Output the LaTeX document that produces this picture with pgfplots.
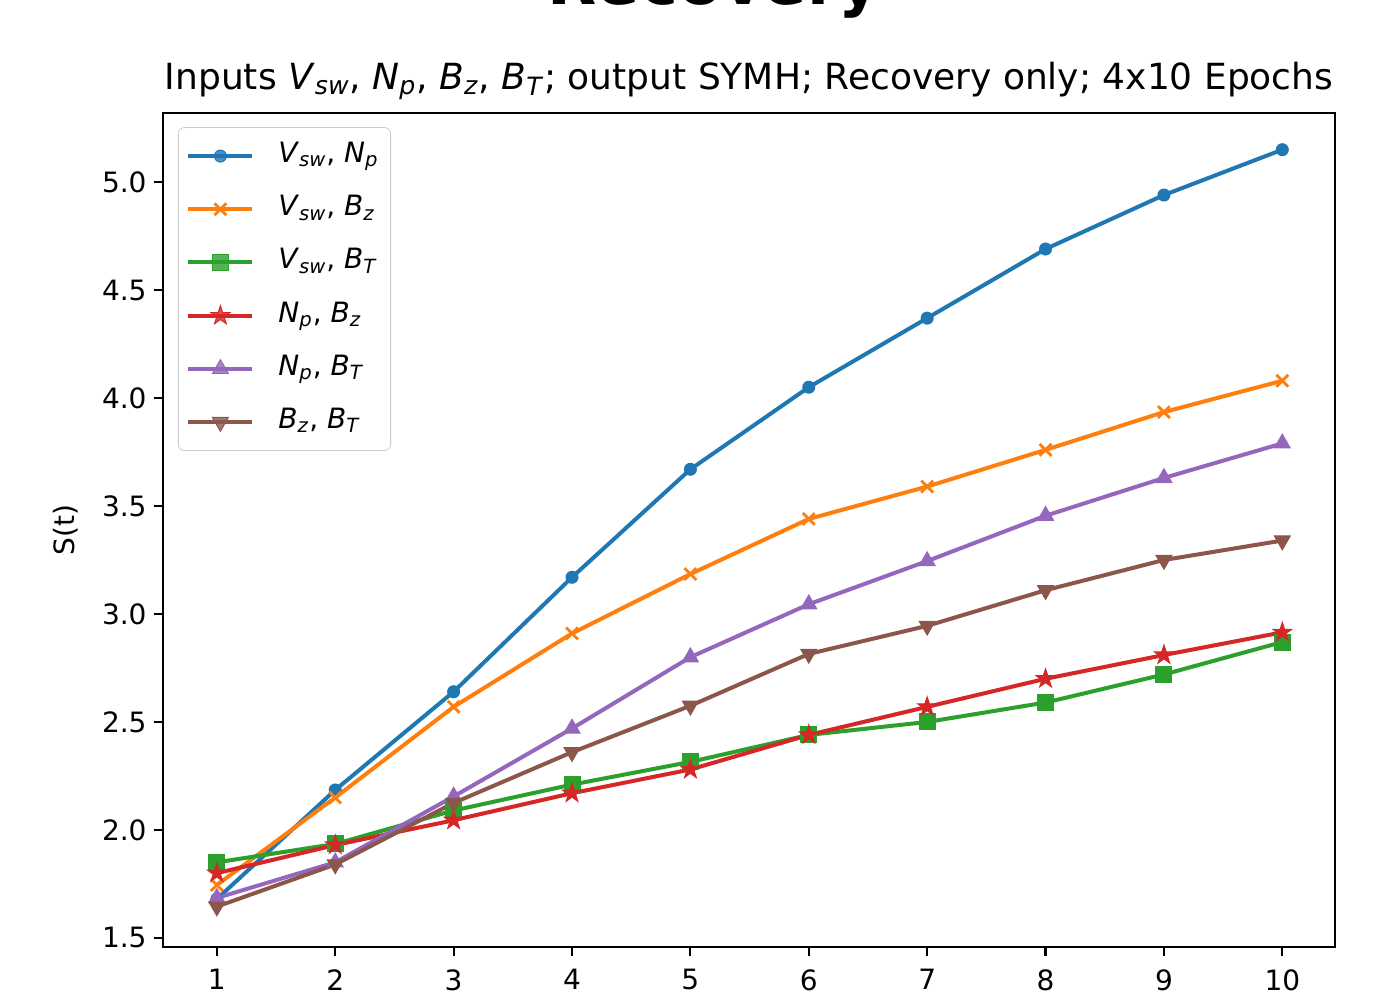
\documentclass[border=0pt]{standalone}
\usepackage{fontspec}
\setmainfont{DejaVu Sans}
\usepackage{pgfplots}
\pgfplotsset{compat=1.18}

\definecolor{c0}{HTML}{1F77B4}
\definecolor{c1}{HTML}{FF7F0E}
\definecolor{c2}{HTML}{2CA02C}
\definecolor{c3}{HTML}{D62728}
\definecolor{c4}{HTML}{9467BD}
\definecolor{c5}{HTML}{8C564B}

% filled five-pointed star, like matplotlib's '*'
\pgfdeclareplotmark{fstar}{%
  \pgfpathmoveto{\pgfpointpolar{90}{\pgfplotmarksize}}%
  \pgfpathlineto{\pgfpointpolar{126}{0.382\pgfplotmarksize}}%
  \pgfpathlineto{\pgfpointpolar{162}{\pgfplotmarksize}}%
  \pgfpathlineto{\pgfpointpolar{198}{0.382\pgfplotmarksize}}%
  \pgfpathlineto{\pgfpointpolar{234}{\pgfplotmarksize}}%
  \pgfpathlineto{\pgfpointpolar{270}{0.382\pgfplotmarksize}}%
  \pgfpathlineto{\pgfpointpolar{306}{\pgfplotmarksize}}%
  \pgfpathlineto{\pgfpointpolar{342}{0.382\pgfplotmarksize}}%
  \pgfpathlineto{\pgfpointpolar{18}{\pgfplotmarksize}}%
  \pgfpathlineto{\pgfpointpolar{54}{0.382\pgfplotmarksize}}%
  \pgfpathclose
  \pgfusepathqfillstroke}

\newcommand{\vsub}[2]{\textit{#1}\textsubscript{\textit{#2}}}
\newcommand{\tickfont}{\fontsize{14pt}{16pt}\selectfont}

\begin{document}
\begin{tikzpicture}
\begin{axis}[
  at={(0,0)}, anchor=south west,
  scale only axis, width=586pt, height=417pt,
  xmin=0.545, xmax=10.445, ymin=1.458, ymax=5.32,
  xtick={1,...,10}, ytick={1.5,2,...,5},
  yticklabel style={/pgf/number format/.cd, fixed, fixed zerofill, precision=1},
  /pgf/number format/assume math mode=true,
  tick align=outside, xtick pos=bottom, ytick pos=left,
  major tick length=4.7pt,
  tick style={line width=1.1pt, black},
  axis line style={line width=1.1pt},
  ticklabel style={font=\tickfont},
  xticklabel style={yshift=-3pt},
  ylabel={S(t)}, ylabel style={font=\tickfont, yshift=5pt},
  title={Inputs \vsub{V}{sw}, \vsub{N}{p}, \vsub{B}{z}, \vsub{B}{T}; output SYMH; Recovery only; 4x10 Epochs},
  title style={font=\fontsize{18pt}{21pt}\selectfont, yshift=-3pt},
  every axis plot/.append style={line width=2pt},
  legend cell align=left,
  legend style={at={(0.0128,0.983)}, anchor=north west,
    draw=black!20, fill=white, fill opacity=0.8, text opacity=1,
    rounded corners=3pt, font=\tickfont, inner xsep=4pt, inner ysep=5pt,
    nodes={inner sep=2pt, text height=10.5pt, text depth=4pt},
    row sep=8.1pt},
  legend image code/.code={
    \draw[mark repeat=2, mark phase=2, #1] plot coordinates {(0pt,0pt) (16pt,0pt) (32pt,0pt)};
    \path (42pt,0pt);},
]
\addplot[c0, mark=*, mark size=3pt, mark options={line width=0.5pt}] coordinates {
(1,1.68) (2,2.185) (3,2.64) (4,3.17) (5,3.67) (6,4.05) (7,4.37) (8,4.69) (9,4.94) (10,5.15)
};
\addlegendentry{\vsub{V}{sw}, \vsub{N}{p}}
\addplot[c1, mark=x, mark size=4.2pt, mark options={line width=1.4pt}] coordinates {
(1,1.745) (2,2.15) (3,2.57) (4,2.91) (5,3.185) (6,3.44) (7,3.59) (8,3.76) (9,3.935) (10,4.08)
};
\addlegendentry{\vsub{V}{sw}, \vsub{B}{z}}
\addplot[c2, mark=square*, mark size=4pt, mark options={line width=0.5pt}] coordinates {
(1,1.85) (2,1.935) (3,2.09) (4,2.21) (5,2.315) (6,2.44) (7,2.50) (8,2.59) (9,2.72) (10,2.87)
};
\addlegendentry{\vsub{V}{sw}, \vsub{B}{T}}
\addplot[c3, mark=fstar, mark size=5pt, mark options={line width=0.5pt}] coordinates {
(1,1.80) (2,1.93) (3,2.045) (4,2.17) (5,2.28) (6,2.44) (7,2.57) (8,2.70) (9,2.81) (10,2.915)
};
\addlegendentry{\vsub{N}{p}, \vsub{B}{z}}
\addplot[c4, mark=triangle*, mark size=4.6pt, mark options={line width=0.5pt}] coordinates {
(1,1.685) (2,1.85) (3,2.155) (4,2.47) (5,2.80) (6,3.045) (7,3.245) (8,3.455) (9,3.63) (10,3.79)
};
\addlegendentry{\vsub{N}{p}, \vsub{B}{T}}
\addplot[c5, mark=triangle*, mark size=4.6pt, mark options={line width=0.5pt, rotate=180}] coordinates {
(1,1.645) (2,1.84) (3,2.125) (4,2.36) (5,2.575) (6,2.815) (7,2.945) (8,3.11) (9,3.25) (10,3.34)
};
\addlegendentry{\vsub{B}{z}, \vsub{B}{T}}
\end{axis}
\node[overlay, anchor=base, font=\fontsize{32pt}{38pt}\selectfont\bfseries] at (275.5pt,471pt) {Recovery};
\path (-81.5pt,-26.5pt) rectangle (605pt,473.5pt);
\end{tikzpicture}
\end{document}
